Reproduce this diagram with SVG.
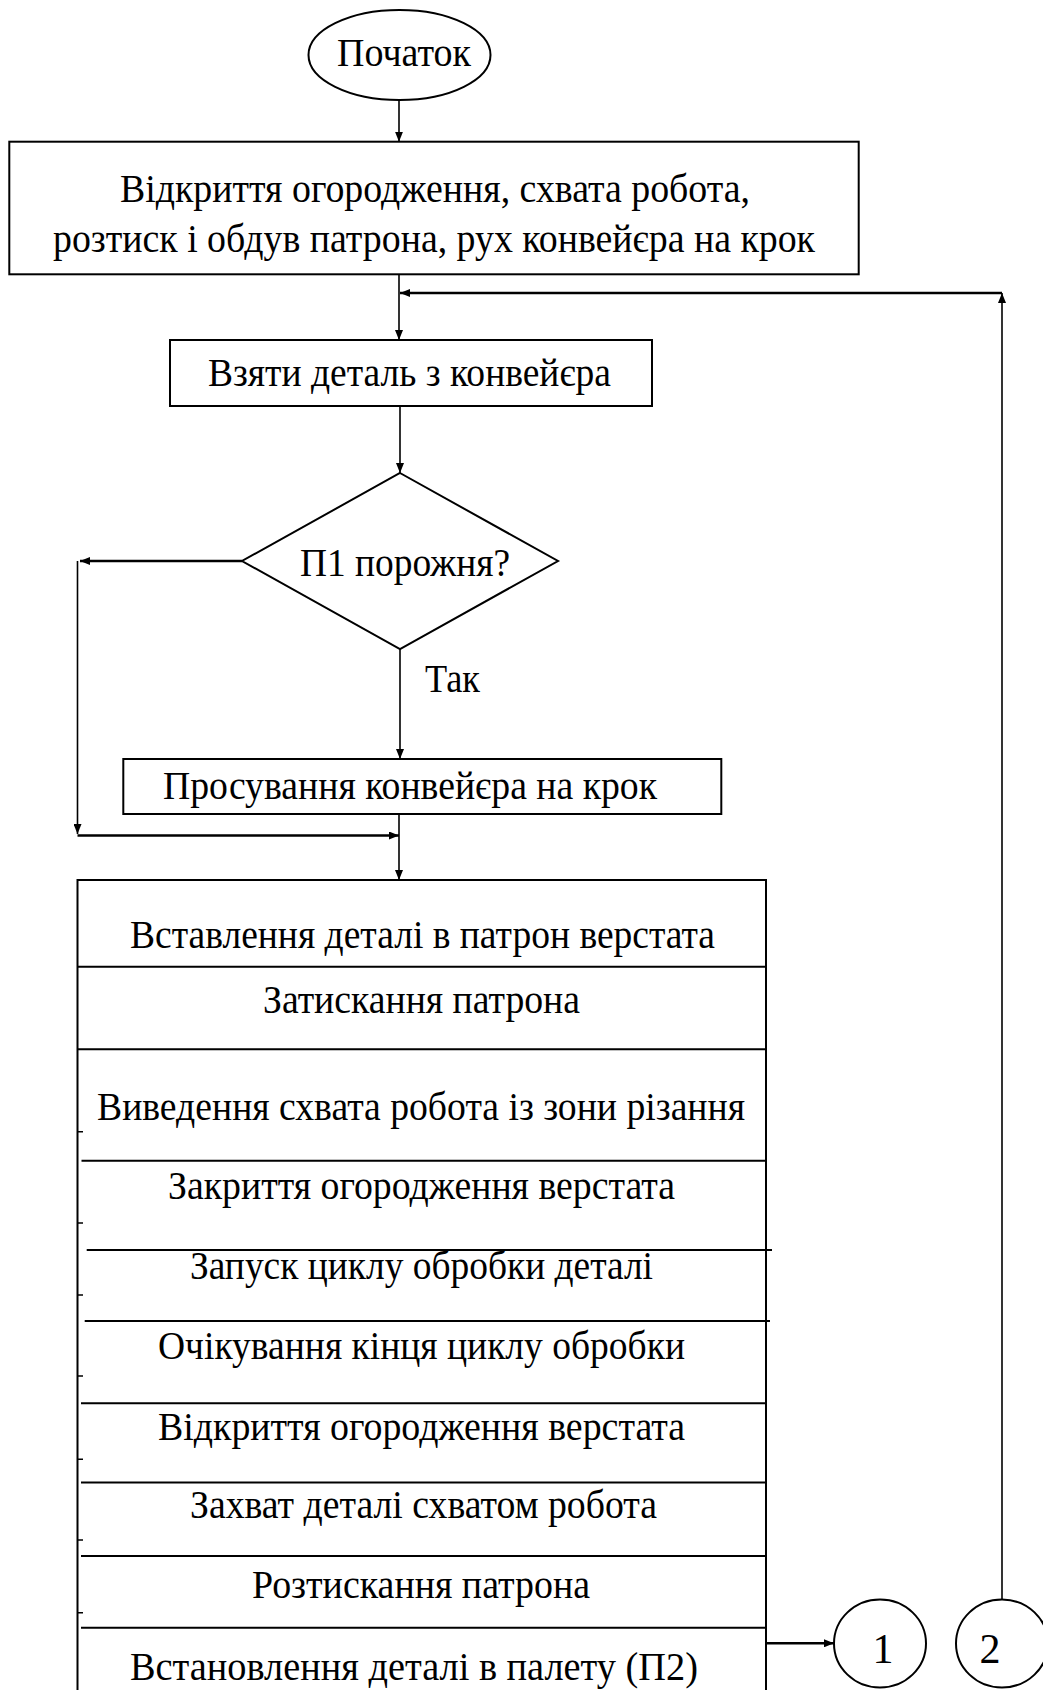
<svg xmlns="http://www.w3.org/2000/svg" width="1043" height="1690" viewBox="0 0 1043 1690">
  <style>
    .shape { fill: #ffffff; stroke: #000000; stroke-width: 2; }
    .edge { fill: none; stroke: #000000; stroke-width: 1.6; }
    .bold { fill: none; stroke: #000000; stroke-width: 2.4; }
    .rule { fill: none; stroke: #000000; stroke-width: 2; }
    .tick { fill: none; stroke: #000000; stroke-width: 1.5; }
    text { font-family: "Liberation Serif", "Times New Roman", serif; font-size: 39px; fill: #000000; }
    .num { font-size: 42px; }
  </style>
  <defs>
    <marker id="arrow" viewBox="0 0 10 8" refX="10" refY="4" markerWidth="10" markerHeight="8" markerUnits="userSpaceOnUse" orient="auto">
      <path d="M0,0 L10,4 L0,8 z" fill="#000000"/>
    </marker>
  </defs>

  <!-- start terminal -->
  <g id="start">
    <ellipse class="shape" cx="399.5" cy="55" rx="91" ry="45"/>
    <text x="337" y="65.7" textLength="134" lengthAdjust="spacingAndGlyphs">Початок</text>
  </g>

  <!-- initial preparation -->
  <g id="prepare">
    <rect class="shape" x="9.3" y="141.7" width="849.4" height="132.6"/>
    <text x="120" y="201.7" textLength="630" lengthAdjust="spacingAndGlyphs">Відкриття огородження, схвата робота,</text>
    <text x="53" y="252.3" textLength="762" lengthAdjust="spacingAndGlyphs">розтиск і обдув патрона, рух конвейєра на крок</text>
  </g>

  <!-- take part from conveyor -->
  <g id="take-part">
    <rect class="shape" x="170" y="340" width="482" height="66"/>
    <text x="208" y="386" textLength="403" lengthAdjust="spacingAndGlyphs">Взяти деталь з конвейєра</text>
  </g>

  <!-- decision: pallet P1 empty -->
  <g id="check-p1">
    <polygon class="shape" points="400,473 558,561 400,649 242,561" stroke-width="1.6"/>
    <text x="300" y="576" textLength="210" lengthAdjust="spacingAndGlyphs">П1 порожня?</text>
  </g>

  <!-- conveyor advance -->
  <g id="advance">
    <rect class="shape" x="123.3" y="759" width="598" height="55"/>
    <text x="163" y="799.3" textLength="494" lengthAdjust="spacingAndGlyphs">Просування конвейєра на крок</text>
  </g>

  <!-- machining sequence table -->
  <g id="sequence">
    <path class="rule" d="M77.5,1690 V880 H766 V1690"/>
    <path class="rule" d="M77.5,966.7 H766 M77.5,1049.3 H766 M81.5,1160.7 H766 M86.7,1250 H772 M84.7,1321 H770 M81,1403.3 H766 M81,1482.5 H766 M81,1556 H766 M81,1627.7 H766"/>
    <path class="tick" d="M77.5,1131.7 H83 M77.5,1223 H83 M77.5,1295 H83 M77.5,1376 H83 M77.5,1459.3 H83 M77.5,1540 H83 M77.5,1612.7 H83"/>
    <text x="130" y="948" textLength="585" lengthAdjust="spacingAndGlyphs">Вставлення деталі в патрон верстата</text>
    <text x="263" y="1013" textLength="317" lengthAdjust="spacingAndGlyphs">Затискання патрона</text>
    <text x="97" y="1120" textLength="648" lengthAdjust="spacingAndGlyphs">Виведення схвата робота із зони різання</text>
    <text x="168" y="1199" textLength="507" lengthAdjust="spacingAndGlyphs">Закриття огородження верстата</text>
    <text x="190" y="1279.3" textLength="463" lengthAdjust="spacingAndGlyphs">Запуск циклу обробки деталі</text>
    <text x="158" y="1359.3" textLength="527" lengthAdjust="spacingAndGlyphs">Очікування кінця циклу обробки</text>
    <text x="158" y="1440" textLength="527" lengthAdjust="spacingAndGlyphs">Відкриття огородження верстата</text>
    <text x="190" y="1518.3" textLength="467" lengthAdjust="spacingAndGlyphs">Захват деталі схватом робота</text>
    <text x="252" y="1598.3" textLength="338" lengthAdjust="spacingAndGlyphs">Розтискання патрона</text>
    <text x="130" y="1680" textLength="568" lengthAdjust="spacingAndGlyphs">Встановлення деталі в палету (П2)</text>
  </g>

  <!-- off-page connectors -->
  <g id="connector-1">
    <ellipse class="shape" cx="880" cy="1643.5" rx="46" ry="44" stroke-width="1.6"/>
    <text class="num" x="883" y="1663.3" text-anchor="middle">1</text>
  </g>
  <g id="connector-2">
    <ellipse class="shape" cx="1002" cy="1643.5" rx="46" ry="44" stroke-width="1.6"/>
    <text class="num" x="990" y="1663.3" text-anchor="middle">2</text>
  </g>

  <!-- connectors -->
  <g id="edges">
    <path class="edge" d="M399,100 V141.7" marker-end="url(#arrow)"/>
    <path class="edge" d="M399,274.3 V340" marker-end="url(#arrow)"/>
    <path class="edge" d="M1002,1599.5 V293" marker-end="url(#arrow)"/>
    <path class="bold" d="M1002,293 H400" marker-end="url(#arrow)"/>
    <path class="edge" d="M400,406 V473" marker-end="url(#arrow)"/>
    <path class="bold" d="M242,561 H80" marker-end="url(#arrow)"/>
    <path class="edge" d="M77.5,561 V834" marker-end="url(#arrow)"/>
    <path class="bold" d="M77.5,835.5 H399" marker-end="url(#arrow)"/>
    <path class="edge" d="M400,649 V759" marker-end="url(#arrow)"/>
    <text x="425" y="691.7" textLength="55" lengthAdjust="spacingAndGlyphs">Так</text>
    <path class="edge" d="M399,814 V880" marker-end="url(#arrow)"/>
    <path class="bold" d="M766,1643.3 H834" marker-end="url(#arrow)"/>
  </g>
</svg>
